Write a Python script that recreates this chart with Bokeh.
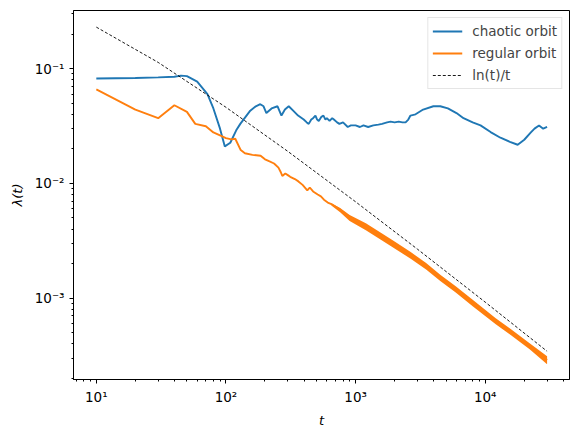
from bokeh.plotting import figure
from bokeh.models import Range1d, FixedTicker, Legend, LegendItem
from bokeh.embed import file_html
from bokeh.resources import INLINE
import numpy as np

# chaotic orbit: finite-time Lyapunov estimate
chaotic_t = [10, 20, 30, 40, 45, 50, 60, 72, 80, 90, 98, 108, 120, 129, 154, 170, 184,
             195, 205, 225, 250, 268, 285, 305, 330, 360, 398, 420, 435, 455, 470, 490,
             505, 520, 545, 565, 585, 600, 630, 660, 680, 720, 750, 800, 870, 920, 1000,
             1080, 1150, 1250, 1370, 1500, 1600, 1750, 1860, 2000, 2150, 2300, 2430,
             2550, 2650, 2900, 3320, 3980, 4500, 5150, 6000, 6800, 8000, 9200, 11000,
             13100, 15500, 17800, 20000, 22400, 24000, 26000, 28000, 30000]
chaotic_y = [0.082, 0.083, 0.084, 0.085, 0.087, 0.086, 0.077, 0.060, 0.045, 0.030, 0.021,
             0.0226, 0.029, 0.033, 0.043, 0.047, 0.049, 0.047, 0.041, 0.045, 0.047, 0.039,
             0.044, 0.047, 0.043, 0.039, 0.036, 0.034, 0.033, 0.036, 0.037, 0.039,
             0.036, 0.035, 0.038, 0.039, 0.036, 0.037, 0.035, 0.037, 0.036, 0.034,
             0.033, 0.034, 0.031, 0.032, 0.032, 0.031, 0.032, 0.031, 0.032, 0.0325,
             0.033, 0.034, 0.0345, 0.034, 0.0345, 0.034, 0.034, 0.036, 0.039, 0.040,
             0.044, 0.047, 0.047, 0.045, 0.041, 0.037, 0.034, 0.032, 0.028, 0.025,
             0.023, 0.0217, 0.024, 0.0277, 0.030, 0.032, 0.030, 0.031]

# regular orbit, early part
regular_t = [10, 20, 30, 40, 50, 58, 70, 80, 90, 100, 110, 118, 130, 140, 160, 185, 200,
             215, 235, 254, 265, 272, 287, 300, 313, 340, 362, 390, 424, 443, 470, 510,
             540, 570, 610]
regular_y = [0.066, 0.044, 0.037, 0.048, 0.042, 0.033, 0.0315, 0.0278, 0.0262, 0.0248,
             0.0242, 0.0245, 0.0195, 0.0183, 0.0177, 0.0174, 0.0162, 0.0156, 0.0149,
             0.0137, 0.0125, 0.0116, 0.0122, 0.0118, 0.0114, 0.0109, 0.0104, 0.0097,
             0.0087, 0.0092, 0.0085, 0.0080, 0.0077, 0.0072, 0.0068]

# regular orbit, late part: fast oscillation band (centre, upper, lower)
band_t = [650, 760, 900, 1200, 1600, 2000, 2660, 3500, 4500, 5920, 8000, 12050, 16000,
          22000, 30000]
band_mid = [0.0066, 0.0059, 0.0051, 0.00427, 0.00347, 0.00295, 0.00238, 0.00191,
            0.00151, 0.0012, 0.00091, 0.00063, 0.0005, 0.00038, 0.000288]
band_hi = [0.0067, 0.0061, 0.0053, 0.00448, 0.00366, 0.00312, 0.00252, 0.00202, 0.0016,
           0.00127, 0.000965, 0.000668, 0.00053, 0.000403, 0.000311]
band_lo = [0.0064, 0.0056, 0.0047, 0.00390, 0.00318, 0.00271, 0.00220, 0.00177, 0.00141,
           0.00112, 0.00085, 0.00059, 0.00047, 0.000357, 0.000265]

# reference curve ln(t)/t
ref_t = np.array([10, 30, 100, 300, 1000, 3000, 10000, 30000], dtype=float)
ref_y = np.log(ref_t) / ref_t

x_major = [10, 100, 1000, 10000]
x_labels = ["10¹", "10²", "10³", "10⁴"]
y_major = [1e-3, 1e-2, 1e-1]
y_labels = ["10⁻³", "10⁻²", "10⁻¹"]

BLUE = "#1f77b4"
ORANGE = "#ff7f0e"
FONT = "DejaVu Sans"

p = figure(width=578, height=435, x_axis_type="log", y_axis_type="log",
           x_range=Range1d(10 ** 0.824, 10 ** 4.65),
           y_range=Range1d(10 ** -3.71, 10 ** -0.493),
           output_backend="svg", toolbar_location=None,
           min_border_left=73, min_border_right=9, min_border_top=10,
           min_border_bottom=56)

p.background_fill_color = "white"
p.border_fill_color = "white"
p.outline_line_color = "black"
p.outline_line_width = 1
p.xgrid.visible = False
p.ygrid.visible = False

l_chaos = p.line(chaotic_t, chaotic_y, line_color=BLUE, line_width=1.9)
p.varea(x=band_t, y1=band_lo, y2=band_hi, fill_color=ORANGE)
l_reg = p.line(regular_t + band_t, regular_y + band_mid, line_color=ORANGE, line_width=1.9)
l_ref = p.line(ref_t, ref_y, line_color="black", line_width=0.9, line_dash="3 2")

x_minor = [m * 10 ** k for k in range(0, 5) for m in range(2, 10)]
y_minor = [m * 10.0 ** k for k in range(-4, 0) for m in range(2, 10)]
p.xaxis.ticker = FixedTicker(ticks=x_major, minor_ticks=x_minor)
p.yaxis.ticker = FixedTicker(ticks=y_major, minor_ticks=y_minor)
p.xaxis.major_label_overrides = dict(zip(x_major, x_labels))
p.yaxis.major_label_overrides = dict(zip(y_major, y_labels))

for ax in (p.xaxis, p.yaxis):
    ax.axis_line_color = "black"
    ax.major_tick_line_color = "black"
    ax.minor_tick_line_color = "black"
    ax.major_tick_in = 0
    ax.major_tick_out = 4
    ax.minor_tick_in = 0
    ax.minor_tick_out = 2
    ax.major_label_text_font = FONT
    ax.major_label_text_font_size = "13.5px"
    ax.major_label_text_color = "black"
    ax.axis_label_text_font = FONT
    ax.axis_label_text_font_size = "13px"
    ax.axis_label_text_font_style = "italic"
    ax.axis_label_text_color = "black"

p.xaxis.axis_label = "t"
p.yaxis.axis_label = "λ(t)"
p.xaxis.major_label_standoff = 5
p.yaxis.major_label_standoff = 5
p.xaxis.axis_label_standoff = 5
p.yaxis.axis_label_standoff = 7

legend = Legend(items=[
    LegendItem(label="chaotic orbit", renderers=[l_chaos]),
    LegendItem(label="regular orbit", renderers=[l_reg]),
    LegendItem(label="ln(t)/t", renderers=[l_ref]),
], location="top_right")
legend.label_text_font = FONT
legend.label_text_font_size = "13.5px"
legend.border_line_color = "#cccccc"
legend.border_line_width = 1
legend.background_fill_alpha = 0.8
legend.margin = 7
legend.padding = 4
legend.spacing = 4
legend.label_height = 18
legend.glyph_height = 18
legend.glyph_width = 30
legend.label_standoff = 10
p.add_layout(legend)

open("out.html", "w").write(file_html(p, INLINE))
